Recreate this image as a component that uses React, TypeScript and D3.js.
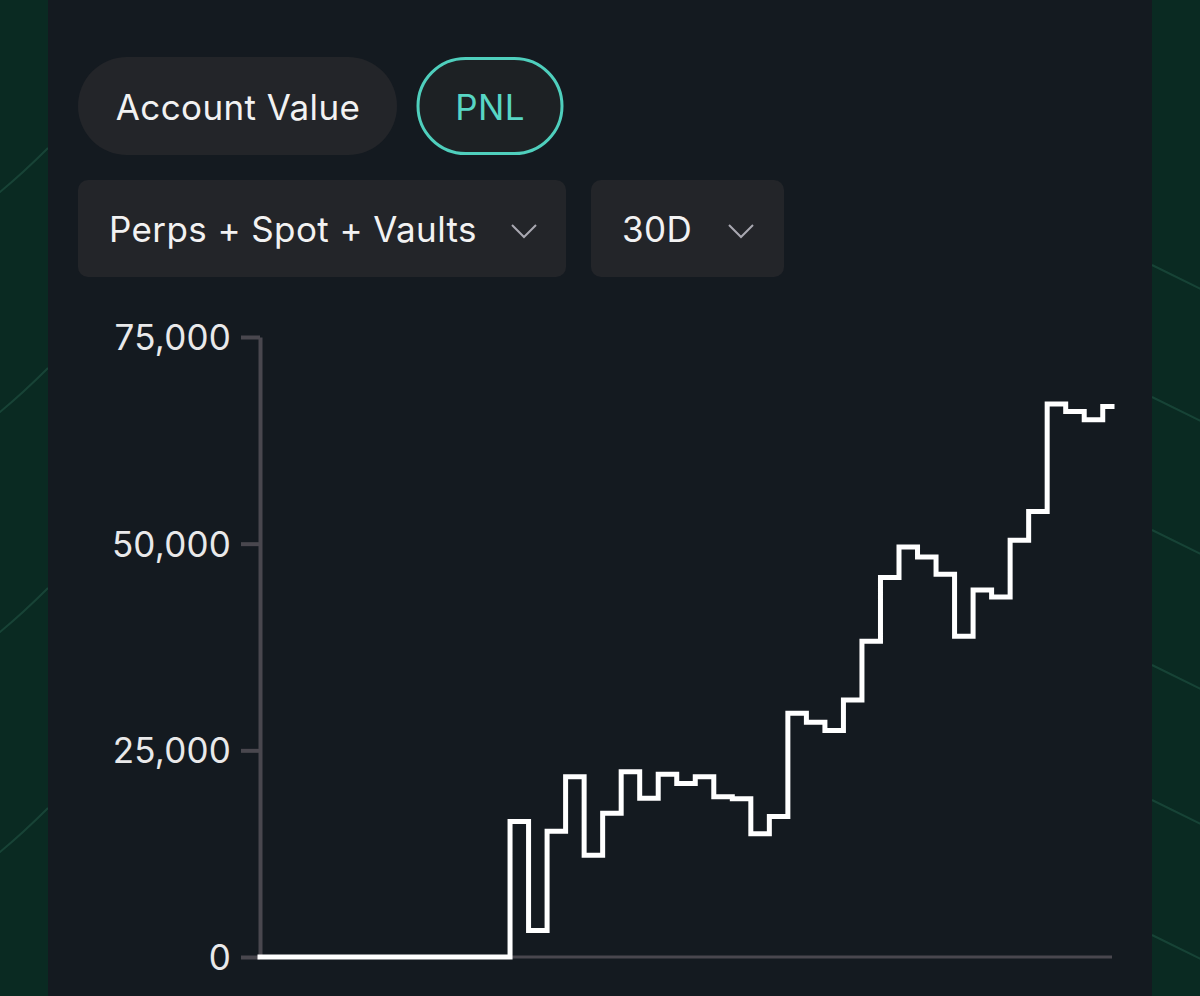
import React, { useEffect, useRef } from 'react';
import * as d3 from 'd3';

// ---- data ----
const pnlValues = [
  0, 0, 0, 0, 0, 0, 0, 0, 0, 0, 0, 0, 0, 0,
  16400, 3200, 15200, 21800, 12300, 17400, 22400, 19200, 22100, 21000, 21800,
  19400, 19150, 14900, 17000, 29500, 28400, 27400, 31100, 38200, 45900, 49600,
  48400, 46300, 38800, 44400, 43550, 50400, 53900, 66900, 66000, 65000, 66600,
];
const yTicks = [0, 25000, 50000, 75000];
const toggleLabels = ['Account Value', 'PNL'];
const dropdownLabels = ['Perps + Spot + Vaults', '30D'];

const W = 1200;
const H = 996;
const FONT = 'Inter, "Noto Sans", sans-serif';

export default function App() {
  const axisRef = useRef<SVGGElement>(null);

  const x = d3.scaleLinear().domain([0, pnlValues.length - 1]).range([260, 1112]);
  const y = d3.scaleLinear().domain([0, 75000]).range([957, 337]);

  const line = d3
    .line<number>()
    .x((_, i) => x(i))
    .y((d) => y(d))
    .curve(d3.curveStep);

  useEffect(() => {
    if (!axisRef.current) return;
    const g = d3.select(axisRef.current);
    g.selectAll('*').remove();
    const axis = d3
      .axisLeft(y)
      .tickValues(yTicks)
      .tickSize(19)
      .tickSizeOuter(0)
      .tickPadding(10)
      .tickFormat((d) => d3.format(',')(d as number));
    g.attr('transform', 'translate(260,0)').call(axis);
    g.select('.domain').attr('stroke', '#49474e').attr('stroke-width', 4);
    g.selectAll('.tick line').attr('stroke', '#49474e').attr('stroke-width', 4);
    g.selectAll('.tick text')
      .attr('fill', '#e9e9ea')
      .attr('font-size', 35)
      .attr('letter-spacing', 0.2)
      .attr('font-family', FONT)
      .attr('dy', '0.36em');
  }, []);

  // background diagonal strokes on the green margins
  const leftLines = [190, 410, 630, 850];
  const rightLines = [265, 397, 530, 665, 800, 935];

  return (
    <svg
      width={W}
      height={H}
      style={{ position: 'absolute', left: 0, top: 0, display: 'block' }}
      fontFamily={FONT}
    >
      <rect x={0} y={0} width={W} height={H} fill="#0a2a22" />
      {leftLines.map((yy, i) => (
        <path
          key={'l' + i}
          d={`M-5,${yy + 6} Q20,${yy - 14} 48,${yy - 42}`}
          stroke="#1b4a3c"
          strokeWidth={2}
          fill="none"
          opacity={0.8}
        />
      ))}
      {rightLines.map((yy, i) => (
        <line
          key={'r' + i}
          x1={1152}
          y1={yy}
          x2={1205}
          y2={yy + 26}
          stroke="#1b4a3c"
          strokeWidth={2}
          opacity={0.8}
        />
      ))}
      <rect x={48} y={0} width={1104} height={H} fill="#141a20" />

      {/* toggle pills */}
      <rect x={78} y={57} width={319} height={98} rx={49} fill="#232529" />
      <text x={238} y={107} textAnchor="middle" dy="0.36em" fontSize={35} letterSpacing={0.4} fill="#f2f2f2">
        {toggleLabels[0]}
      </text>
      <rect x={418} y={58.5} width={144} height={95} rx={47.5} fill="#1d2124" stroke="#4fcfbd" strokeWidth={3} />
      <text x={490} y={107} textAnchor="middle" dy="0.36em" fontSize={35} letterSpacing={0.4} fill="#58d6c4">
        {toggleLabels[1]}
      </text>

      {/* dropdowns */}
      <rect x={78} y={180} width={488} height={97} rx={10} fill="#232529" />
      <text x={109} y={229} dy="0.36em" fontSize={35} letterSpacing={0.4} fill="#f2f2f2">
        {dropdownLabels[0]}
      </text>
      <polyline points="512,225 524,237 536,225" fill="none" stroke="#a9a8b1" strokeWidth={2} />
      <rect x={591} y={180} width={193} height={97} rx={10} fill="#232529" />
      <text x={622} y={229} dy="0.36em" fontSize={35} letterSpacing={0.4} fill="#f2f2f2">
        {dropdownLabels[1]}
      </text>
      <polyline points="729,225 741,237 753,225" fill="none" stroke="#a9a8b1" strokeWidth={2} />

      {/* axes */}
      <line x1={260} x2={1112} y1={y(0)} y2={y(0)} stroke="#49474e" strokeWidth={3} />
      <g ref={axisRef} />

      {/* PNL step line */}
      <path
        d={line(pnlValues) ?? ''}
        fill="none"
        stroke="#ffffff"
        strokeWidth={5}
        strokeLinejoin="miter"
        strokeLinecap="square"
      />
    </svg>
  );
}
